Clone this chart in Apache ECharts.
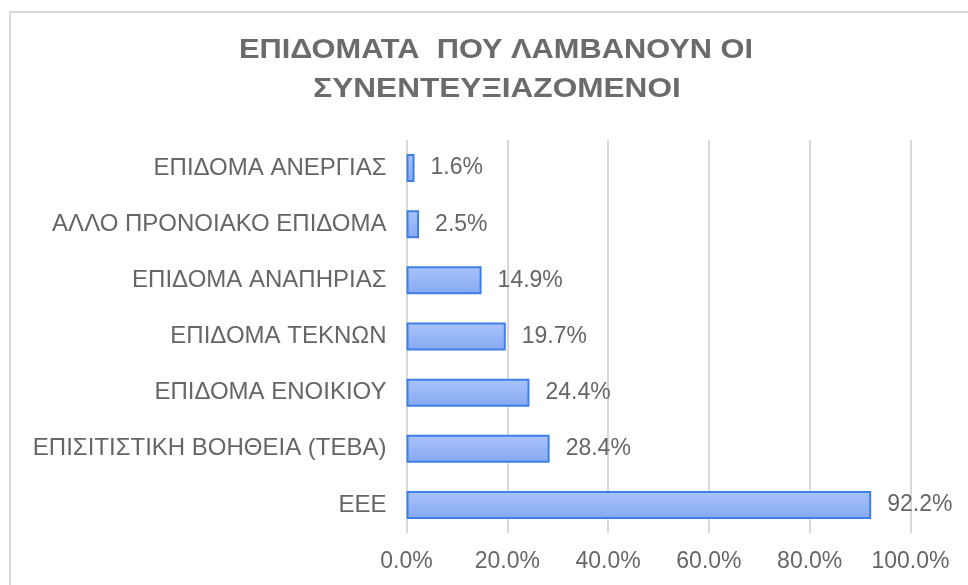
<!DOCTYPE html>
<html>
<head>
<meta charset="utf-8">
<script src="https://cdn.jsdelivr.net/npm/echarts@6/dist/echarts.min.js"></script>
<style>
html,body{margin:0;padding:0;background:#fff;}
#chart{width:968px;height:585px;}
</style>
</head>
<body>
<div id="chart"></div>
<script>
const titleLines = ['ΕΠΙΔΟΜΑΤΑ  ΠΟΥ ΛΑΜΒΑΝΟΥΝ ΟΙ', 'ΣΥΝΕΝΤΕΥΞΙΑΖΟΜΕΝΟΙ'];
const categories = [
  'ΕΠΙΔΟΜΑ ΑΝΕΡΓΙΑΣ',
  'ΑΛΛΟ ΠΡΟΝΟΙΑΚΟ ΕΠΙΔΟΜΑ',
  'ΕΠΙΔΟΜΑ ΑΝΑΠΗΡΙΑΣ',
  'ΕΠΙΔΟΜΑ ΤΕΚΝΩΝ',
  'ΕΠΙΔΟΜΑ ΕΝΟΙΚΙΟΥ',
  'ΕΠΙΣΙΤΙΣΤΙΚΗ ΒΟΗΘΕΙΑ (ΤΕΒΑ)',
  'ΕΕΕ'
];
const values = [1.6, 2.5, 14.9, 19.7, 24.4, 28.4, 92.2];
const xTicks = [0, 20, 40, 60, 80, 100];

const FONT = '"Liberation Sans", Arial, sans-serif';
const GRAY = '#666666';
const chart = echarts.init(document.getElementById('chart'), null, {renderer: 'canvas'});
chart.setOption({
  animation: false,
  backgroundColor: '#ffffff',
  graphic: [
    {type: 'rect', silent: true, z: -10,
     shape: {x: 10, y: 12, width: 1100, height: 800},
     style: {fill: 'none', stroke: '#d9d9d9', lineWidth: 2}},
    {type: 'text', x: 496, y: 50, scaleX: 1.14, scaleY: 1.04,
     style: {text: titleLines[0], align: 'center', verticalAlign: 'middle',
             font: 'bold 27px ' + FONT, fill: '#6b6b6b'}},
    {type: 'text', x: 497, y: 89, scaleX: 1.17, scaleY: 1.04,
     style: {text: titleLines[1], align: 'center', verticalAlign: 'middle',
             font: 'bold 27px ' + FONT, fill: '#6b6b6b'}}
  ],
  grid: {left: 406.5, right: 968 - 910.5, top: 140, bottom: 585 - 533, containLabel: false},
  xAxis: {
    type: 'value', min: xTicks[0], max: xTicks[xTicks.length - 1], interval: 20,
    axisLine: {show: false}, axisTick: {show: false},
    splitLine: {show: true, lineStyle: {color: '#d9d9d9', width: 2}},
    axisLabel: {color: GRAY, fontSize: 23, fontFamily: FONT, margin: 17,
                formatter: v => v.toFixed(1) + '%'}
  },
  yAxis: {
    type: 'category', data: categories, inverse: true,
    axisLine: {show: false}, axisTick: {show: false},
    axisLabel: {color: GRAY, fontSize: 24, fontFamily: FONT, margin: 20}
  },
  series: [{
    type: 'bar', data: values, barWidth: 28,
    itemStyle: {
      color: new echarts.graphic.LinearGradient(0, 0, 0, 1, [
        {offset: 0, color: '#aac4f8'},
        {offset: 1, color: '#84a8f3'}
      ]),
      borderColor: '#3f7fe6', borderWidth: 2
    },
    label: {show: true, position: 'right', distance: 16, color: GRAY,
            fontSize: 23, fontFamily: FONT,
            formatter: p => p.value.toFixed(1) + '%'}
  }]
});
</script>
</body>
</html>
